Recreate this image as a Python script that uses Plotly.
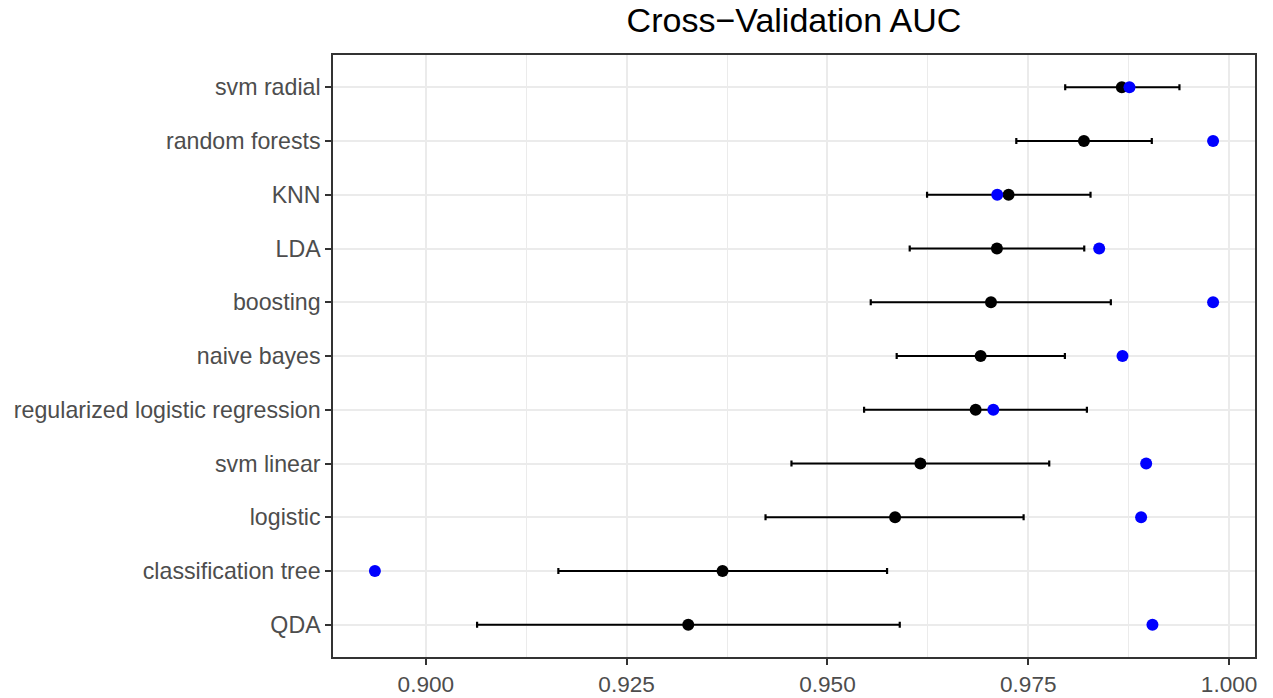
import plotly.graph_objects as go

# categories listed bottom -> top
models = ["QDA", "classification tree", "logistic", "svm linear",
          "regularized logistic regression", "naive bayes", "boosting",
          "LDA", "KNN", "random forests", "svm radial"]
cv_mean = [0.93267, 0.93694, 0.95842, 0.96157, 0.96845, 0.96907,
           0.97036, 0.97110, 0.97255, 0.98193, 0.98665]
cv_lower = [0.90638, 0.91650, 0.94229, 0.94552, 0.95456, 0.95862,
            0.95539, 0.96024, 0.96240, 0.97351, 0.97960]
cv_upper = [0.95900, 0.95742, 0.97442, 0.97761, 0.98230, 0.97956,
            0.98528, 0.98197, 0.98275, 0.99038, 0.99382]
test_auc = [0.99046, 0.89366, 0.98905, 0.98968, 0.97065, 0.98673,
            0.99801, 0.98383, 0.97114, 0.99801, 0.98760]
x_ticks = [0.900, 0.925, 0.950, 0.975, 1.000]
x_tick_labels = ["0.900", "0.925", "0.950", "0.975", "1.000"]

plus = [u - m for u, m in zip(cv_upper, cv_mean)]
minus = [m - l for m, l in zip(cv_mean, cv_lower)]

fig = go.Figure()
fig.add_trace(go.Scatter(
    x=cv_mean, y=models, mode="markers",
    marker=dict(color="black", size=12),
    error_x=dict(type="data", symmetric=False, array=plus, arrayminus=minus,
                 color="black", thickness=2.2, width=3),
    showlegend=False, hoverinfo="x+y"))
fig.add_trace(go.Scatter(
    x=test_auc, y=models, mode="markers",
    marker=dict(color="#0000FF", size=12),
    showlegend=False, hoverinfo="x+y"))

lo = min(min(cv_lower), min(test_auc))
hi = max(max(cv_upper), max(test_auc))
pad = (hi - lo) * 0.05

fig.update_layout(
    width=1273, height=698,
    margin=dict(l=333, r=18, t=55, b=41, autoexpand=False),
    paper_bgcolor="white", plot_bgcolor="white",
    font=dict(family="Liberation Sans, Arial, sans-serif"),
    title=dict(text="Cross\u2212Validation AUC", x=0.5, xref="paper", xanchor="center",
               y=1 - 20.5 / 698, yanchor="middle",
               font=dict(size=34, color="black", family="Liberation Sans, Arial, sans-serif")),
    xaxis=dict(range=[lo - pad, hi + pad], tickmode="array", tickvals=x_ticks,
               ticktext=x_tick_labels, showgrid=True, gridcolor="#EBEBEB", gridwidth=1.8,
               minor=dict(showgrid=True, dtick=0.0125, tick0=0.9, gridcolor="#EBEBEB",
                          gridwidth=1.0),
               showline=True, linecolor="#333333", linewidth=1.5, mirror=True,
               ticks="outside", ticklen=6, tickwidth=1.5, tickcolor="#333333",
               tickfont=dict(size=22.6, color="#4D4D4D"), zeroline=False,
               automargin=False),
    yaxis=dict(type="category", categoryorder="array", categoryarray=models,
               range=[-0.6, len(models) - 0.4], showgrid=True, gridcolor="#EBEBEB",
               gridwidth=1.8, showline=True, linecolor="#333333", linewidth=1.5,
               mirror=True, ticks="outside", ticklen=6, tickwidth=1.5,
               tickcolor="#333333", tickfont=dict(size=23.2, color="#4D4D4D"),
               zeroline=False, automargin=False),
)

fig.write_html("out.html", config={"displayModeBar": False},
               post_script="document.body.style.margin='0';document.body.style.overflow='hidden';")
